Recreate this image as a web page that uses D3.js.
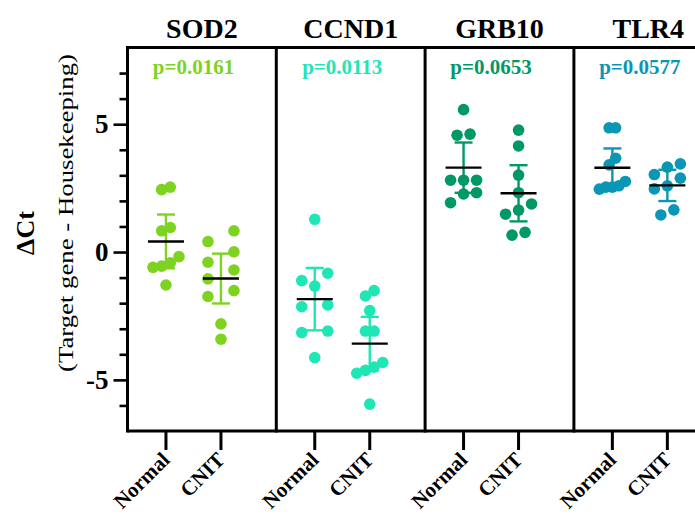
<!DOCTYPE html>
<html>
<head>
<meta charset="utf-8">
<script src="https://cdn.jsdelivr.net/npm/d3@7/dist/d3.min.js"></script>
<style>
  html, body { margin: 0; padding: 0; background: #ffffff; }
  svg { display: block; }
  text { font-family: "Liberation Serif", "Times New Roman", serif; }
</style>
</head>
<body>
<script>
// ---------------- data ----------------
const genes = ["SOD2", "CCND1", "GRB10", "TLR4"];
const groups = ["Normal", "CNIT"];
const pLabels = ["p=0.0161", "p=0.0113", "p=0.0653", "p=0.0577"];
const geneColors = ["#7ED321", "#1EE6B4", "#009966", "#0A96B4"];

const sod2Normal  = [2.54, 2.44, 0.96, 0.83, -0.18, -0.42, -0.55, -0.60, -1.29];
const sod2CNIT    = [0.83, 0.41, 0.01, -0.40, -0.70, -1.05, -1.51, -1.74, -2.81, -3.41];
const ccnd1Normal = [1.28, -0.83, -1.12, -1.33, -2.07, -2.14, -3.09, -3.15, -4.13];
const ccnd1CNIT   = [-1.51, -1.72, -2.29, -3.09, -3.09, -4.32, -4.50, -4.63, -4.74, -5.95];
const grb10Normal = [5.57, 4.61, 4.57, 2.81, 2.81, 2.81, 2.32, 2.27, 1.93];
const grb10CNIT   = [4.77, 4.15, 3.01, 2.32, 1.88, 1.64, 1.48, 0.77, 0.66];
const tlr4Normal  = [4.86, 4.86, 3.67, 3.41, 2.76, 2.59, 2.54, 2.54, 2.46];
const tlr4CNIT    = [3.45, 3.32, 3.03, 2.89, 2.59, 2.47, 1.65, 1.45];

const yMajorTicks = [-5, 0, 5];
const yMinorTicks = [-6, -4, -3, -2, -1, 1, 2, 3, 4, 6, 7];
// two-sided 95% t quantiles by degrees of freedom (error bars = 95% CI of mean)
const tCrit = {7: 2.365, 8: 2.306, 9: 2.262};

const seriesTable = [
  [sod2Normal, sod2CNIT],
  [ccnd1Normal, ccnd1CNIT],
  [grb10Normal, grb10CNIT],
  [tlr4Normal, tlr4CNIT]
];

// ---------------- layout ----------------
const W = 695, H = 514;
const plotLeft = 127.5, plotTop = 47.5, plotBottom = 431;
const panelW = 148.8;
const serif = "'Liberation Serif', 'Times New Roman', serif";

const svg = d3.select("body").append("svg").attr("width", W).attr("height", H);
svg.append("rect").attr("width", W).attr("height", H).attr("fill", "#fff");

const y = d3.scaleLinear().domain([-7, 8]).range([plotBottom, plotTop]);
const panel = d3.scaleBand().domain(genes).range([plotLeft, plotLeft + panelW * genes.length]).padding(0);
const cat = d3.scalePoint().domain(groups).range([0, panel.bandwidth()]).padding(0.853).align(0.41);

// beeswarm-like row layout (Prism style)
function swarm(values, band, width) {
  const idx = values.map((v, i) => i).sort((a, b) => values[b] - values[a]);
  const rows = [];
  idx.forEach(i => {
    const r = rows[rows.length - 1];
    if (r && values[r[0]] - values[i] <= band + 1e-9) r.push(i);
    else rows.push([i]);
  });
  const maxN = d3.max(rows, r => r.length);
  const spacing = maxN > 1 ? width / (maxN - 1) : 0;
  const off = new Array(values.length).fill(0);
  rows.forEach(r => {
    r.sort((a, b) => values[a] - values[b]);
    r.forEach((i, k) => { off[i] = (k - (r.length - 1) / 2) * spacing; });
  });
  return off;
}

const g = svg.append("g");

// points, means, CI
genes.forEach((gene, gi) => {
  const col = geneColors[gi];
  groups.forEach((grp, k) => {
    const vals = seriesTable[gi][k];
    const cx = panel(gene) + cat(grp);
    const offs = swarm(vals, 0.435, 26);
    const m = d3.mean(vals);
    const ci = tCrit[vals.length - 1] * d3.deviation(vals) / Math.sqrt(vals.length);

    g.selectAll(null).data(vals).enter().append("circle")
      .attr("cx", (d, i) => cx + offs[i])
      .attr("cy", d => y(d))
      .attr("r", 5.8)
      .attr("fill", col);

    // error bar
    const eb = g.append("g").attr("stroke", col).attr("stroke-width", 2.4).attr("fill", "none");
    eb.append("line").attr("x1", cx).attr("x2", cx).attr("y1", y(m + ci)).attr("y2", y(m - ci));
    eb.append("line").attr("x1", cx - 9).attr("x2", cx + 9).attr("y1", y(m + ci)).attr("y2", y(m + ci));
    eb.append("line").attr("x1", cx - 9).attr("x2", cx + 9).attr("y1", y(m - ci)).attr("y2", y(m - ci));
    // mean
    g.append("line").attr("x1", cx - 18).attr("x2", cx + 18).attr("y1", y(m)).attr("y2", y(m))
      .attr("stroke", "#000").attr("stroke-width", 2.4);
  });

  // p value
  const mid = panel(gene) + (cat("Normal") + cat("CNIT")) / 2;
  svg.append("text").attr("x", mid).attr("y", 74)
    .attr("text-anchor", "middle").attr("font-weight", "bold").attr("font-size", 21)
    .attr("font-family", serif).attr("fill", col).text(pLabels[gi]);

  // gene title
  svg.append("text").attr("x", panel(gene) + panel.bandwidth() / 2).attr("y", 38)
    .attr("text-anchor", "middle").attr("font-weight", "bold").attr("font-size", 28)
    .attr("font-family", serif).attr("fill", "#000").text(gene);
});

// frame
const frame = svg.append("g").attr("stroke", "#000").attr("stroke-width", 3).attr("fill", "none");
frame.append("line").attr("x1", plotLeft).attr("x2", W + 5).attr("y1", plotTop).attr("y2", plotTop);
frame.append("line").attr("x1", plotLeft).attr("x2", W + 5).attr("y1", plotBottom).attr("y2", plotBottom);
genes.forEach(gene => {
  frame.append("line").attr("x1", panel(gene)).attr("x2", panel(gene))
    .attr("y1", plotTop - 1.5).attr("y2", plotBottom + 1.5);
});

// y axis
const yAxisMajor = d3.axisLeft(y).tickValues(yMajorTicks).tickSize(14).tickPadding(5)
  .tickFormat(d => String(d));
const ya = svg.append("g").attr("transform", `translate(${plotLeft},0)`).call(yAxisMajor)
  .attr("font-family", serif);
ya.select(".domain").remove();
ya.selectAll(".tick line").attr("stroke-width", 2.6);
ya.selectAll(".tick text").attr("font-family", serif)
  .attr("font-size", 27).attr("font-weight", "bold").attr("fill", "#000");

const yAxisMinor = d3.axisLeft(y).tickValues(yMinorTicks).tickSize(8).tickFormat("");
const ym = svg.append("g").attr("transform", `translate(${plotLeft},0)`).call(yAxisMinor);
ym.select(".domain").remove();
ym.selectAll(".tick line").attr("stroke-width", 2.6);

// x ticks and labels
genes.forEach(gene => {
  groups.forEach(grp => {
    const x = panel(gene) + cat(grp);
    svg.append("line").attr("x1", x).attr("x2", x).attr("y1", plotBottom).attr("y2", plotBottom + 19)
      .attr("stroke", "#000").attr("stroke-width", 3);
    svg.append("text")
      .attr("transform", `translate(${x + 5},${461}) rotate(-45)`)
      .attr("text-anchor", "end").attr("font-weight", "bold").attr("font-size", 21)
      .attr("font-family", serif).attr("fill", "#000").text(grp);
  });
});

// y axis title
svg.append("text").attr("transform", "translate(34,233) rotate(-90)")
  .attr("text-anchor", "middle").attr("font-weight", "bold").attr("font-size", 26)
  .attr("font-family", serif).attr("fill", "#000").text("\u0394Ct");
svg.append("text").attr("transform", "translate(73,213) rotate(-90)")
  .attr("text-anchor", "middle").attr("font-size", 22)
  .attr("font-family", serif)
  .attr("textLength", 318).attr("lengthAdjust", "spacingAndGlyphs")
  .attr("fill", "#000").text("(Target gene - Housekeeping)");
</script>
</body>
</html>
